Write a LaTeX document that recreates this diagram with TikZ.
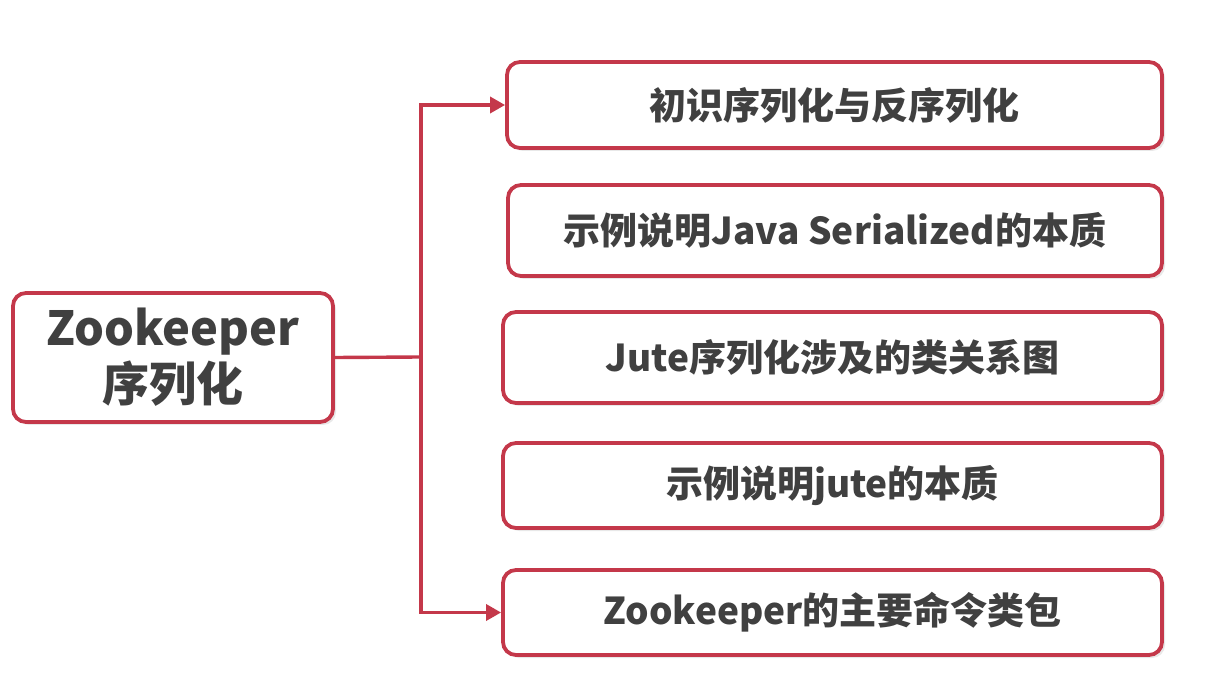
\documentclass[tikz,border=0pt]{standalone}
\usepackage{fontspec}
\newfontfamily\cjk{Noto Sans CJK SC}
\usetikzlibrary{shadows,arrows.meta}
\definecolor{frame}{HTML}{C4384A}
\definecolor{txt}{HTML}{404040}
\tikzset{
  box/.style={draw=frame, line width=3.8pt, rounded corners=13pt, fill=white,
    drop shadow={opacity=0.18, shadow xshift=3pt, shadow yshift=-3pt},
    text=txt, font=\cjk\bfseries\fontsize{37}{44}\selectfont, align=center, inner sep=0pt},
  conn/.style={draw=frame, line width=3.4pt},
  arr/.style={conn, -{Triangle[length=15pt,width=16pt]}}
}
\begin{document}
\begin{tikzpicture}[x=1pt,y=-1pt]
\useasboundingbox (0,0) rectangle (1208,684);
\node[box, minimum width=320pt, minimum height=129pt, font=\cjk\bfseries\fontsize{47}{56}\selectfont] (root) at (173,357.5) {Zookeeper\\序列化};
\node[box, minimum width=655pt, minimum height=86pt] (b1) at (834.5,105) {初识序列化与反序列化};
\node[box, minimum width=654pt, minimum height=91pt] (b2) at (835,230.5) {示例说明Java Serialized的本质};
\node[box, minimum width=659pt, minimum height=91pt] (b3) at (832.5,357.5) {Jute序列化涉及的类关系图};
\node[box, minimum width=659pt, minimum height=85pt] (b4) at (832.5,485.5) {示例说明jute的本质};
\node[box, minimum width=659pt, minimum height=85pt] (b5) at (832.5,612.5) {Zookeeper的主要命令类包};
\coordinate (j) at (421,357);
\draw[conn] (root.east) -- (j);
\draw[arr] (j) |- (b1.west);
\draw[arr] (j) |- (b5.west);
\end{tikzpicture}
\end{document}
